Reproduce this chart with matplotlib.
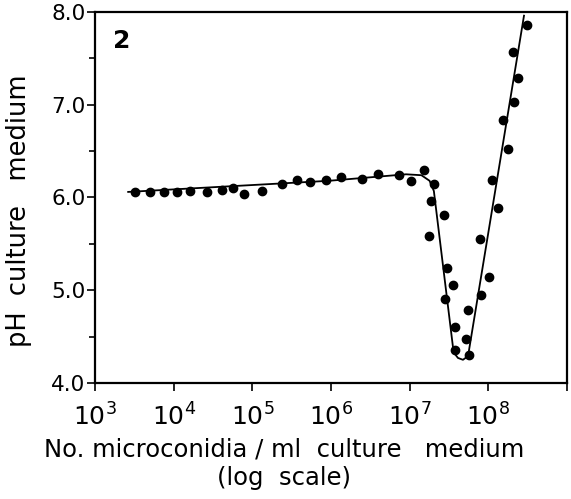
import matplotlib
matplotlib.use("Agg")
import matplotlib.pyplot as plt
from matplotlib.ticker import FixedLocator, MultipleLocator

# Observed points: microconidia / ml (x) and pH (y)
conc = [3.2e3, 5.0e3, 7.5e3, 1.09e4, 1.62e4, 2.64e4, 4.1e4, 5.7e4, 7.9e4, 1.33e5,
        2.39e5, 3.72e5, 5.41e5, 8.6e5, 1.33e6, 2.47e6, 3.92e6, 7.26e6, 1.045e7, 1.51e7,
        2.03e7, 1.88e7, 2.73e7, 1.75e7, 3.01e7, 3.6e7, 2.84e7, 3.81e7, 3.73e7, 5.16e7,
        5.69e7, 5.52e7, 7.94e7, 8.18e7, 1.02e8, 1.12e8, 1.33e8, 1.76e8, 1.52e8, 2.13e8,
        2.40e8, 2.07e8, 3.13e8]
ph = [6.06, 6.06, 6.06, 6.06, 6.07, 6.06, 6.08, 6.10, 6.04, 6.07,
      6.14, 6.19, 6.17, 6.19, 6.22, 6.20, 6.25, 6.24, 6.18, 6.30,
      6.14, 5.96, 5.81, 5.58, 5.24, 5.06, 4.91, 4.60, 4.36, 4.47,
      4.30, 4.79, 5.55, 4.95, 5.14, 6.19, 5.89, 6.52, 6.84, 7.03,
      7.29, 7.57, 7.86]

# Fitted curve
curve_conc = [2.64e3, 9.46e5, 9.0e6, 1.41e7, 1.79e7, 2.03e7, 3.62e7, 4.11e7, 4.76e7, 5.52e7, 2.84e8]
curve_ph = [6.06, 6.18, 6.25, 6.24, 6.18, 6.07, 4.33, 4.27, 4.25, 4.29, 7.96]

xticks = [1e3, 1e4, 1e5, 1e6, 1e7, 1e8]
xticklabels = [r"$10^{3}$", r"$10^{4}$", r"$10^{5}$", r"$10^{6}$", r"$10^{7}$", r"$10^{8}$"]
yticks = [4.0, 5.0, 6.0, 7.0, 8.0]
yticklabels = ["4.0", "5.0", "6.0", "7.0", "8.0"]

plt.rcParams['font.family'] = ['DejaVu Sans']
plt.rcParams['mathtext.fontset'] = 'dejavusans'

fig = plt.figure(figsize=(5.71, 4.99), dpi=100)
ax = fig.add_axes([0.1664, 0.2325, 0.8266, 0.7435])

ax.plot(curve_conc, curve_ph, color='black', lw=1.3, zorder=2)
ax.plot(conc, ph, 'o', color='black', ms=6, zorder=3)

ax.set_xscale('log')
ax.set_xlim(1e3, 1e9)
ax.set_ylim(4.0, 8.0)

ax.xaxis.set_major_locator(FixedLocator(xticks + [1e9]))
ax.set_xticklabels(xticklabels + [""], fontsize=18)
ax.xaxis.set_minor_locator(FixedLocator([]))
ax.set_yticks(yticks)
ax.set_yticklabels(yticklabels, fontsize=15.5)
ax.yaxis.set_minor_locator(MultipleLocator(0.5))

for s in ax.spines.values():
    s.set_linewidth(1.6)

ax.tick_params(axis='both', which='both', direction='out', width=1.2, top=False, right=False)
ax.tick_params(axis='x', which='major', length=6, pad=9)
ax.tick_params(axis='y', which='major', length=6, pad=1)
ax.tick_params(axis='y', which='minor', length=4)

ax.set_xlabel("No. microconidia / ml  culture   medium\n(log  scale)", fontsize=17.5, linespacing=1.2)
ax.xaxis.set_label_coords(0.40, -0.148)
ax.set_ylabel("pH  culture   medium", fontsize=18.5)
ax.yaxis.set_label_coords(-0.133, 0.464)

ax.text(0.038, 0.955, "2", transform=ax.transAxes, fontsize=18, fontweight='bold',
        ha='left', va='top')

fig.savefig("out.png", dpi=100)
